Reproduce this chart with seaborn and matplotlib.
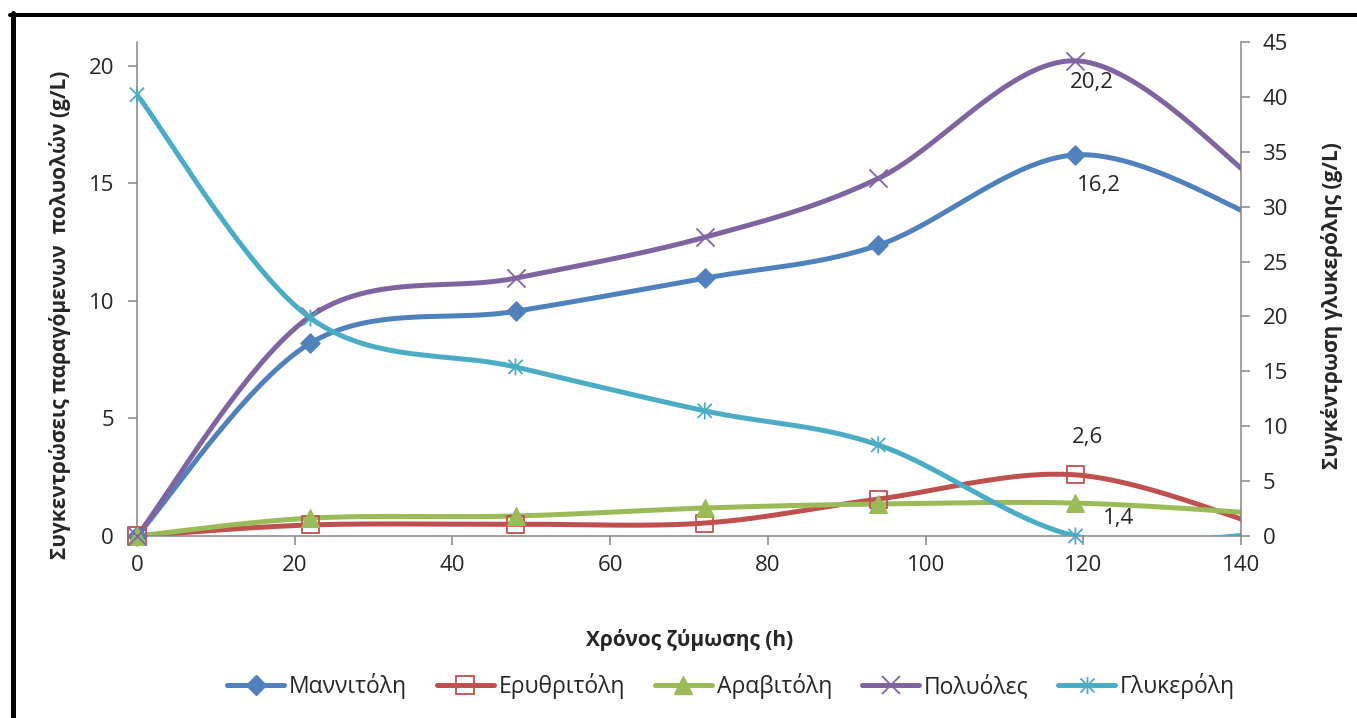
import numpy as np
import pandas as pd
import matplotlib
matplotlib.use("Agg")
import matplotlib.pyplot as plt
import seaborn as sns
from matplotlib.lines import Line2D
from matplotlib.path import Path
from matplotlib.patches import Rectangle

# ---------------- data ----------------
# the last sampling point lies just past the 140 h axis limit (its marker is not visible)
time_h = [0, 22, 48, 72, 94, 119, 143]
mannitol = [0, 8.2, 9.55, 10.96, 12.36, 16.2, 13.4]
erythritol = [0, 0.47, 0.5, 0.55, 1.57, 2.6, 0.4]
arabitol = [0, 0.76, 0.85, 1.19, 1.36, 1.4, 0.95]
polyols = [0, 9.34, 10.96, 12.7, 15.2, 20.2, 14.8]
glycerol = [40.2, 19.85, 15.4, 11.4, 8.3, 0, 0.2]

series_names = ["Μαννιτόλη", "Ερυθριτόλη", "Αραβιτόλη", "Πολυόλες", "Γλυκερόλη"]
x_ticks = [0, 20, 40, 60, 80, 100, 120, 140]
left_ticks = [0, 5, 10, 15, 20]
right_ticks = [0, 5, 10, 15, 20, 25, 30, 35, 40, 45]
labels_text = ["20,2", "16,2", "2,6", "1,4"]

W, H, DPI = 1357, 718, 100
sns.set_style("white")
plt.rcParams["font.family"] = ["Open Sans", "DejaVu Sans"]

colors = {
    "Μαννιτόλη": "#4F81BD",
    "Ερυθριτόλη": "#C0504D",
    "Αραβιτόλη": "#9BBB59",
    "Πολυόλες": "#8064A2",
    "Γλυκερόλη": "#4BACC6",
}

# Excel-like "star" marker: X plus vertical bar
star_path = Path(
    [(-1, -1), (1, 1), (-1, 1), (1, -1), (0, -1.2), (0, 1.2)],
    [Path.MOVETO, Path.LINETO, Path.MOVETO, Path.LINETO, Path.MOVETO, Path.LINETO],
)

fig = plt.figure(figsize=(W / DPI, H / DPI), dpi=DPI)
ax_l, ax_r, ax_b, ax_t = 137 / W, 1241 / W, 1 - 536 / H, 1 - 42 / H
ax = fig.add_axes([ax_l, ax_b, ax_r - ax_l, ax_t - ax_b])
ax2 = ax.twinx()

XMAX, YMAX_L, YMAX_R = 140, 21, 45
plot_w_px, plot_h_px = 1241 - 137, 536 - 42


def smooth(xs, ys, sx, sy, n=40):
    P = np.column_stack([np.asarray(xs, float) * sx, np.asarray(ys, float) * sy])
    out = []
    for i in range(len(P) - 1):
        p0 = P[i - 1] if i > 0 else P[i]
        p1, p2 = P[i], P[i + 1]
        p3 = P[i + 2] if i + 2 < len(P) else P[i + 1]
        c1 = p1 + (p2 - p0) / 6
        c2 = p2 - (p3 - p1) / 6
        t = np.linspace(0, 1, n)[:, None]
        seg = (1 - t) ** 3 * p1 + 3 * (1 - t) ** 2 * t * c1 + 3 * (1 - t) * t ** 2 * c2 + t ** 3 * p2
        out.append(seg if i == 0 else seg[1:])
    out = np.vstack(out)
    return out[:, 0] / sx, out[:, 1] / sy


LW = 3.6
marker_style = {
    "Μαννιτόλη": dict(marker="D", s=95, facecolor=colors["Μαννιτόλη"], edgecolor=colors["Μαννιτόλη"], linewidth=1),
    "Ερυθριτόλη": dict(marker="s", s=150, facecolor="none", edgecolor=colors["Ερυθριτόλη"], linewidth=1.3),
    "Αραβιτόλη": dict(marker="^", s=160, facecolor=colors["Αραβιτόλη"], edgecolor=colors["Αραβιτόλη"], linewidth=1),
    "Πολυόλες": dict(marker="x", s=170, color=colors["Πολυόλες"], linewidth=1.3),
    "Γλυκερόλη": dict(marker=star_path, s=150, facecolor="none", edgecolor=colors["Γλυκερόλη"], linewidth=1.3),
}


def clip_markers(a, coll):
    # markers may overflow the plot area on the left/bottom (like Excel), but
    # points beyond the x-axis maximum are hidden
    coll.set_clip_path(Rectangle((-0.05, -0.1), 1.05, 1.2, transform=a.transAxes))


left_data = [("Μαννιτόλη", mannitol), ("Ερυθριτόλη", erythritol), ("Αραβιτόλη", arabitol), ("Πολυόλες", polyols)]
sxp = plot_w_px / XMAX
for name, vals in left_data:
    xs, ys = smooth(time_h, vals, sxp, plot_h_px / YMAX_L)
    sns.lineplot(x=xs, y=ys, ax=ax, color=colors[name], linewidth=LW, sort=False, estimator=None, legend=False)
    sns.scatterplot(x=time_h, y=vals, ax=ax, legend=False, zorder=3, **marker_style[name])
    clip_markers(ax, ax.collections[-1])

xs, ys = smooth(time_h, glycerol, sxp, plot_h_px / YMAX_R)
sns.lineplot(x=xs, y=ys, ax=ax2, color=colors["Γλυκερόλη"], linewidth=LW, sort=False, estimator=None, legend=False)
sns.scatterplot(x=time_h, y=glycerol, ax=ax2, legend=False, zorder=3, **marker_style["Γλυκερόλη"])
clip_markers(ax2, ax2.collections[-1])

# axes formatting
TICK_FS = 16
gray = "#868686"
ax.set_xlim(0, XMAX)
ax.set_ylim(0, YMAX_L)
ax2.set_ylim(0, YMAX_R)
ax.set_xticks(x_ticks)
ax.set_yticks(left_ticks)
ax2.set_yticks(right_ticks)
for a in (ax, ax2):
    for sp in a.spines.values():
        sp.set_color(gray)
        sp.set_linewidth(1.1)
    a.spines["top"].set_visible(False)
ax.spines["right"].set_visible(False)
ax2.spines["left"].set_visible(False)
ax2.spines["bottom"].set_visible(False)
ax.tick_params(axis="x", direction="out", length=6.5, width=1.1, color=gray, labelsize=TICK_FS, pad=7, bottom=True)
ax.tick_params(axis="y", direction="out", length=6.5, width=1.1, color=gray, labelsize=TICK_FS, pad=10, left=True)
ax2.tick_params(axis="y", direction="out", length=6.5, width=1.1, color=gray, labelsize=TICK_FS, pad=9, right=True)
ax.grid(False)
ax2.grid(False)
ax.set_zorder(ax2.get_zorder() - 1)
ax2.patch.set_visible(False)

LAB_FS = 15
ax.set_ylabel("Συγκεντρώσεις παραγόμενων  πολυολών (g/L)", fontsize=LAB_FS, fontweight="bold")
ax.yaxis.set_label_coords((71 - 137) / plot_w_px, (536 - 315) / plot_h_px)
ax2.set_ylabel("Συγκέντρωση γλυκερόλης (g/L)", fontsize=LAB_FS, fontweight="bold", rotation=90)
ax2.yaxis.set_label_coords((1321 - 137) / plot_w_px, (536 - 306) / plot_h_px)
ax.set_xlabel("Χρόνος ζύμωσης (h)", fontsize=LAB_FS, fontweight="bold")
ax.xaxis.set_label_coords((690 - 137) / plot_w_px, -(629 - 536) / plot_h_px)

# data labels
ann = [
    (time_h[5], polyols[5], labels_text[0], 16, -22),
    (time_h[5], mannitol[5], labels_text[1], 24, -31),
    (time_h[5], erythritol[5], labels_text[2], 12, 37),
    (time_h[5], arabitol[5], labels_text[3], 43, -15),
]
for x, y, t, dx, dy in ann:
    ax.annotate(t, (x, y), xytext=(dx, dy), textcoords="offset pixels", ha="center", va="center", fontsize=TICK_FS)

# legend
handles = []
for name in series_names:
    ms = marker_style[name]
    mk = ms["marker"]
    fc = ms.get("facecolor", colors[name])
    handles.append(Line2D([], [], color=colors[name], linewidth=LW, marker=mk, markersize=np.sqrt(ms["s"]),
                          markerfacecolor=fc, markeredgecolor=colors[name], markeredgewidth=ms.get("linewidth", 1)))
fig.legend(handles, series_names, loc="center", bbox_to_anchor=(731 / W, 1 - 686 / H), ncol=5, frameon=False,
           fontsize=16.5, handlelength=2.5, handletextpad=0.2, columnspacing=1.3)

# outer black frame (left and top edges)
fig.add_artist(Line2D([12.5 / W, 12.5 / W], [0, 1 - 13 / H], color="black", linewidth=3.6, transform=fig.transFigure))
fig.add_artist(Line2D([10 / W, 1], [1 - 15 / H, 1 - 15 / H], color="black", linewidth=2.9, transform=fig.transFigure))

fig.savefig("out.png", dpi=DPI)
